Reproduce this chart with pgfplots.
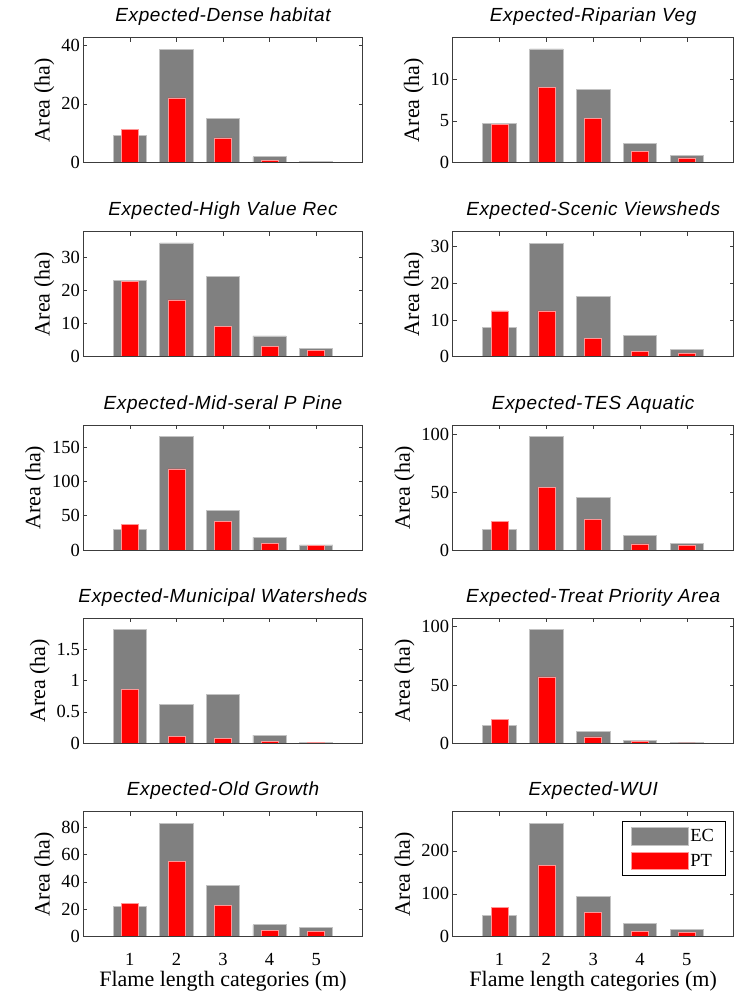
\documentclass[border=0pt]{standalone}
\usepackage{pgfplots}
\pgfplotsset{compat=1.18}
\usepackage{fontspec}
\setmainfont{Liberation Serif}
\newfontfamily\titlefont[LetterSpace=3.3]{Liberation Sans}
\definecolor{ecgray}{RGB}{128,128,128}
\definecolor{ecedge}{RGB}{195,195,195}
\definecolor{ptred}{RGB}{255,0,0}
\definecolor{ptedge}{RGB}{255,150,150}
\definecolor{axcol}{RGB}{60,60,60}
\newcommand{\tkfont}{\fontsize{18.5}{20}\selectfont}
\newcommand{\lbfont}{\fontsize{22}{24}\selectfont}
\pgfplotsset{
  panel/.style={
    scale only axis, width=#1, height=125pt,
    xmin=0, xmax=6, xtick={1,2,3,4,5}, xticklabels={},
    xtick pos=upper, xticklabel pos=lower,
    ymin=0,
    tick align=inside, major tick length=4pt,
    tick style={axcol, line width=0.6pt},
    axis line style={axcol, line width=0.8pt},
    axis on top,
    /pgf/number format/assume math mode=true,
    yticklabel={\tkfont\pgfmathprintnumber{\tick}},
    yticklabel style={font=\tkfont},
    ylabel={\lbfont Area (ha)},
    ylabel style={font=\lbfont},
    title style={font=\titlefont\itshape\fontsize{19}{22}\selectfont,
      at={(0.5,1)}, anchor=south, inner sep=0pt, yshift=5.8pt},
  },
  myleg/.style={legend image code/.code={\path[##1] (0pt,-8.85pt) rectangle (56.7pt,8.85pt);}},
  ecbar/.style={ybar, bar shift=0pt, bar width=0.714, fill=ecgray, draw=ecedge, line width=0.7pt, myleg},
  ptbar/.style={ybar, bar shift=0pt, bar width=0.36, fill=ptred, draw=ptedge, line width=0.6pt, myleg},
  bottomrow/.style={
    xticklabels={1,2,3,4,5},
    xticklabel style={font=\tkfont, anchor=north, inner sep=0pt, yshift=-16.7pt},
    xlabel={Flame length categories (m)},
    xlabel style={at={(axis description cs:0.5,0)}, anchor=north, inner sep=0pt, yshift=-34pt,
      font=\lbfont},
  },
}
\begin{document}
\begin{tikzpicture}
\useasboundingbox (0pt,0pt) rectangle (742pt,992pt);
% Row 1
\begin{axis}[panel=279.4pt, at={(83.3pt,954.3pt)}, anchor=north west,
  title={Expected-Dense habitat}, ymax=42.5, ytick={0,20,40}]
\addplot[ecbar] coordinates {(1,9.4) (2,38.6) (3,15.0) (4,2.0) (5,0.5)};
\addplot[ptbar] coordinates {(1,11.3) (2,22.0) (3,8.4) (4,0.9) (5,0.2)};
\end{axis}
\begin{axis}[panel=281pt, at={(452.7pt,954.3pt)}, anchor=north west,
  title={Expected-Riparian Veg}, ymax=14.94, ytick={0,5,10}]
\addplot[ecbar] coordinates {(1,4.66) (2,13.6) (3,8.73) (4,2.27) (5,0.84)};
\addplot[ptbar] coordinates {(1,4.62) (2,9.04) (3,5.26) (4,1.31) (5,0.56)};
\end{axis}
% Row 2
\begin{axis}[panel=279.4pt, at={(83.3pt,760.3pt)}, anchor=north west,
  title={Expected-High Value Rec}, ymax=37.7, ytick={0,10,20,30}]
\addplot[ecbar] coordinates {(1,22.9) (2,34.3) (3,24.3) (4,6.24) (5,2.6)};
\addplot[ptbar] coordinates {(1,22.6) (2,17.1) (3,9.2) (4,3.0) (5,1.8)};
\end{axis}
\begin{axis}[panel=281pt, at={(452.7pt,760.3pt)}, anchor=north west,
  title={Expected-Scenic Viewsheds}, ymax=34.1, ytick={0,10,20,30}]
\addplot[ecbar] coordinates {(1,7.9) (2,31.0) (3,16.5) (4,5.7) (5,1.9)};
\addplot[ptbar] coordinates {(1,12.5) (2,12.5) (3,4.9) (4,1.4) (5,1.0)};
\end{axis}
% Row 3
\begin{axis}[panel=279.4pt, at={(83.3pt,567pt)}, anchor=north west,
  title={Expected-Mid-seral P Pine}, ymax=182, ytick={0,50,100,150}]
\addplot[ecbar] coordinates {(1,30) (2,165.5) (3,57.6) (4,18.4) (5,7.3)};
\addplot[ptbar] coordinates {(1,37.7) (2,118) (3,41.1) (4,9.2) (5,6.3)};
\end{axis}
\begin{axis}[panel=281pt, at={(452.7pt,567pt)}, anchor=north west,
  title={Expected-TES Aquatic}, ymax=108.1, ytick={0,50,100}]
\addplot[ecbar] coordinates {(1,17.8) (2,98.3) (3,45.7) (4,12.9) (5,6.0)};
\addplot[ptbar] coordinates {(1,25) (2,54) (3,26.7) (4,5.2) (5,4.0)};
\end{axis}
% Row 4
\begin{axis}[panel=279.4pt, at={(83.3pt,373.7pt)}, anchor=north west,
  title={Expected-Municipal Watersheds}, ymax=1.99, ytick={0,0.5,1,1.5}]
\addplot[ecbar] coordinates {(1,1.807) (2,0.625) (3,0.784) (4,0.13) (5,0.02)};
\addplot[ptbar] coordinates {(1,0.86) (2,0.106) (3,0.08) (4,0.027) (5,0.01)};
\end{axis}
\begin{axis}[panel=281pt, at={(452.7pt,373.7pt)}, anchor=north west,
  title={Expected-Treat Priority Area}, ymax=107.1, ytick={0,50,100}]
\addplot[ecbar] coordinates {(1,15.4) (2,97.4) (3,10.3) (4,2.6) (5,0.9)};
\addplot[ptbar] coordinates {(1,20.3) (2,56.9) (3,5.4) (4,1.4) (5,0.3)};
\end{axis}
% Row 5
\begin{axis}[panel=279.4pt, bottomrow, at={(83.3pt,180.3pt)}, anchor=north west,
  title={Expected-Old Growth}, ymax=91.2, ytick={0,20,40,60,80}]
\addplot[ecbar] coordinates {(1,21.8) (2,82.9) (3,37.1) (4,8.7) (5,7.0)};
\addplot[ptbar] coordinates {(1,24.2) (2,55) (3,23) (4,4.4) (5,3.9)};
\end{axis}
\begin{axis}[panel=281pt, bottomrow, at={(452.7pt,180.3pt)}, anchor=north west,
  title={Expected-WUI}, ymax=291.5, ytick={0,100,200},
  legend style={at={(1,1)}, anchor=north east, xshift=-8.4pt, yshift=-9.3pt,
    draw=black, line width=0.6pt, fill=white, font=\tkfont,
    inner xsep=9pt, inner ysep=5.7pt, row sep=6.3pt,
    cells={anchor=west, inner sep=0pt},
    /tikz/every even column/.append style={column sep=4.5pt}}]
\addplot[ecbar] coordinates {(1,50.4) (2,265) (3,93.8) (4,31) (5,17)};
\addlegendentry{EC}
\addplot[ptbar] coordinates {(1,67.4) (2,166.7) (3,56.6) (4,12.4) (5,10.9)};
\addlegendentry{PT}
\end{axis}
\end{tikzpicture}
\end{document}
